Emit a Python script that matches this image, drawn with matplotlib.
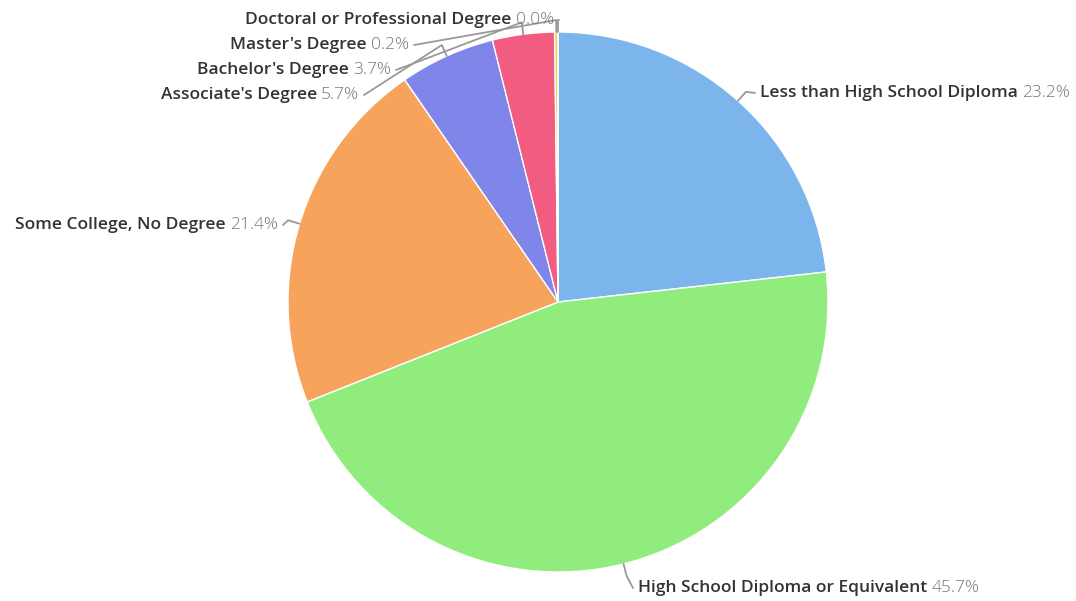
import numpy as np
import matplotlib.pyplot as plt

categories = [
    "Less than High School Diploma",
    "High School Diploma or Equivalent",
    "Some College, No Degree",
    "Associate's Degree",
    "Bachelor's Degree",
    "Master's Degree",
    "Doctoral or Professional Degree",
]
shares = [23.2, 45.7, 21.4, 5.7, 3.7, 0.2, 0.0]
colors = ['#7cb5ec', '#90ed7d', '#f7a35c', '#8085e9', '#f15c80', '#e4d354', '#2b908f']

# label anchors in pixels from the top-left corner, and which side text sits on
label_pos = [
    (760, 93, 'left'),
    (638, 588, 'left'),
    (278, 225, 'right'),
    (359, 95, 'right'),
    (391, 70, 'right'),
    (409, 45, 'right'),
    (554, 20, 'right'),
]

W, H = 1076, 601
cx, cy, R = 558, H - 302, 270

fig = plt.figure(figsize=(W / 100, H / 100), dpi=100)
ax = fig.add_axes([0, 0, 1, 1])
ax.pie(shares, colors=colors, startangle=90, counterclock=False,
       center=(cx, cy), radius=R,
       wedgeprops=dict(edgecolor='white', linewidth=1))
ax.set_xlim(0, W)
ax.set_ylim(0, H)
ax.set_aspect('equal')
ax.axis('off')

renderer = fig.canvas.get_renderer()
name_font = dict(family='Open Sans', size=12.5, weight='semibold', color='#333333')
pct_font = dict(family='Open Sans', size=12.5, weight='light', color='#777777')

total = sum(shares)
cum = np.cumsum([0] + shares[:-1])
for name, val, start, (lx, ly, side) in zip(categories, shares, cum, label_pos):
    mid = np.deg2rad(90 - (start + val / 2) / total * 360)
    ly = H - ly
    p0 = (cx + R * np.cos(mid), cy + R * np.sin(mid))
    p1 = (cx + (R + 12) * np.cos(mid), cy + (R + 12) * np.sin(mid))
    gap = -5 if side == 'left' else 5
    ax.plot([p0[0], p1[0], lx + gap], [p0[1], p1[1], ly],
            color='#999999', lw=1.3, solid_capstyle='round')
    pct = f"{val:.1f}%"
    if side == 'left':
        t = ax.text(lx, ly, name, ha='left', va='center', **name_font)
        w = t.get_window_extent(renderer).width
        ax.text(lx + w + 4, ly, pct, ha='left', va='center', **pct_font)
    else:
        t = ax.text(lx, ly, pct, ha='right', va='center', **pct_font)
        w = t.get_window_extent(renderer).width
        ax.text(lx - w - 4, ly, name, ha='right', va='center', **name_font)

fig.savefig('out.png', dpi=100)
